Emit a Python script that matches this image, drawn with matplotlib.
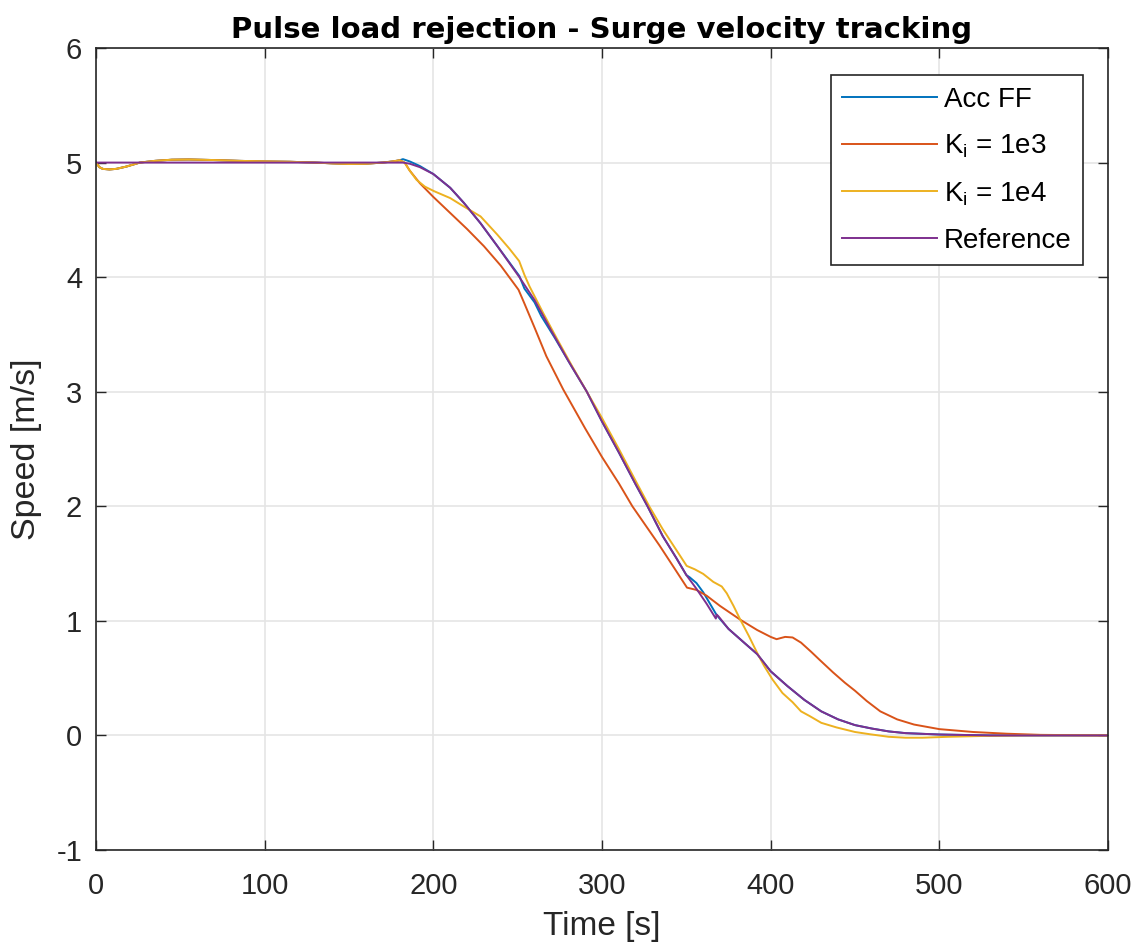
import matplotlib
matplotlib.use("Agg")
import matplotlib.pyplot as plt

plt.rcParams['font.family'] = ['Liberation Sans', 'DejaVu Sans']
plt.rcParams['mathtext.fontset'] = 'custom'
plt.rcParams['mathtext.rm'] = 'Liberation Sans'
plt.rcParams['mathtext.it'] = 'Liberation Sans:italic'
plt.rcParams['axes.unicode_minus'] = False

# start-up wiggle, shared by the three controllers
t_start = [0, 2, 4, 8, 12, 18, 26, 35, 45, 55, 70, 85, 100, 115, 130, 140, 150, 160, 170, 176, 180]
v_start = [5.0, 4.96, 4.945, 4.94, 4.945, 4.965, 5.0, 5.015, 5.025, 5.027, 5.022, 5.015, 5.01, 5.007,
           5.0, 4.993, 4.988, 4.99, 5.0, 5.01, 5.02]

t_acc = t_start + [182, 186, 192, 200, 210, 218, 228, 238, 246, 251, 254, 257, 260, 264, 272, 282, 291,
                   300, 310, 320, 327, 336, 344, 350, 352, 356, 360, 364, 368, 375, 385, 392, 400, 410,
                   420, 430, 440, 450, 460, 470, 480, 500, 530, 600]
v_acc = v_start + [5.03, 5.01, 4.97, 4.90, 4.78, 4.65, 4.47, 4.27, 4.11, 4.01, 3.90, 3.84, 3.78, 3.66,
                   3.47, 3.22, 3.0, 2.74, 2.47, 2.19, 2.0, 1.74, 1.55, 1.40, 1.38, 1.33, 1.25, 1.15,
                   1.05, 0.93, 0.80, 0.71, 0.56, 0.43, 0.31, 0.21, 0.14, 0.09, 0.06, 0.035, 0.02,
                   0.008, 0.0, 0.0]

t_ki3 = t_start + [183, 186, 192, 200, 210, 220, 230, 240, 250.5, 254, 260, 267, 277, 290, 300, 310,
                   318, 326, 334, 342, 350.4, 356, 362, 370, 382, 392, 400, 403.5, 406, 408.6, 413,
                   418, 424, 429, 437, 444, 450, 457, 465, 475, 485, 500, 520, 540, 560, 600]
v_ki3 = v_start + [5.0, 4.93, 4.82, 4.70, 4.56, 4.42, 4.27, 4.10, 3.89, 3.77, 3.56, 3.31, 3.02, 2.68,
                   2.43, 2.20, 2.0, 1.83, 1.66, 1.48, 1.29, 1.27, 1.22, 1.13, 1.01, 0.92, 0.86, 0.84,
                   0.85, 0.86, 0.855, 0.81, 0.73, 0.66, 0.55, 0.46, 0.39, 0.30, 0.21, 0.14, 0.095,
                   0.055, 0.03, 0.015, 0.005, 0.0]

t_ki4 = t_start + [183, 186, 190, 195, 200.5, 210, 217.7, 228, 238, 245, 250.9, 254, 257, 265, 273, 282,
                   291, 300, 310, 320, 328, 336, 344, 350.2, 355, 360, 366, 371, 374, 378, 382, 387,
                   392, 396, 401, 407, 413, 418, 423, 430, 439, 450, 459, 470, 480, 490, 505, 525,
                   550, 600]
v_ki4 = v_start + [5.0, 4.93, 4.85, 4.79, 4.75, 4.69, 4.62, 4.53, 4.37, 4.25, 4.14, 4.02, 3.92, 3.69,
                   3.47, 3.23, 3.0, 2.77, 2.50, 2.22, 2.0, 1.80, 1.62, 1.48, 1.45, 1.41, 1.34, 1.30,
                   1.24, 1.13, 1.01, 0.87, 0.72, 0.61, 0.49, 0.37, 0.29, 0.21, 0.17, 0.11, 0.07, 0.03,
                   0.01, -0.012, -0.02, -0.02, -0.012, -0.005, 0.0, 0.0]

t_ref = [0, 182, 186, 192, 200, 210, 218, 228, 238, 251, 260, 270, 280, 291, 300, 310, 320, 327, 336,
         344, 350, 356, 362, 367.5, 368, 369, 375, 385, 392, 400, 410, 420, 430, 440, 450, 460, 470,
         480, 500, 530, 600]
v_ref = [5.0, 5.0, 4.99, 4.96, 4.90, 4.78, 4.65, 4.47, 4.27, 4.0, 3.80, 3.53, 3.27, 3.0, 2.74, 2.47,
         2.19, 2.0, 1.74, 1.55, 1.40, 1.28, 1.15, 1.02, 1.055, 1.04, 0.93, 0.80, 0.71, 0.56, 0.43,
         0.31, 0.21, 0.14, 0.09, 0.06, 0.035, 0.02, 0.008, 0.0, 0.0]

x_ticks = [0, 100, 200, 300, 400, 500, 600]
y_ticks = [-1, 0, 1, 2, 3, 4, 5, 6]

fig = plt.figure(figsize=(11.4, 9.49), dpi=100)
ax = fig.add_axes([96 / 1140, 1 - 850 / 949, 1012 / 1140, 802 / 949])

lw = 1.4
ax.plot(t_acc, v_acc, color='#0072BD', lw=lw, label='Acc FF')
ax.plot(t_ki3, v_ki3, color='#D95319', lw=lw, label=r'K$_{\mathregular{i}}$ = 1e3')
ax.plot(t_ki4, v_ki4, color='#EDB120', lw=lw, label=r'K$_{\mathregular{i}}$ = 1e4')
ax.plot(t_ref, v_ref, color='#7E2F8E', lw=lw, label='Reference')

ax.set_xlim(0, 600)
ax.set_ylim(-1, 6)
ax.set_xticks(x_ticks)
ax.set_yticks(y_ticks)
ax.grid(True, color='#e5e5e5', lw=1.2)
ax.set_axisbelow(True)
for s in ax.spines.values():
    s.set_color('#262626')
    s.set_linewidth(1.2)
ax.tick_params(direction='in', length=7, width=1, colors='#262626', labelsize=21,
               top=True, right=True)
ax.tick_params(axis='x', pad=16)
ax.tick_params(axis='y', pad=10)

ax.set_xlabel('Time [s]', fontsize=24, color='#262626', labelpad=8)
ax.set_ylabel('Speed [m/s]', fontsize=24.5, color='#262626', labelpad=10)
ax.set_title('Pulse load rejection - Surge velocity tracking', fontsize=21, fontweight='bold',
             family='DejaVu Sans', pad=7)

leg = ax.legend(loc='upper right', bbox_to_anchor=(1083 / 1140, 1 - 75 / 949),
                bbox_transform=fig.transFigure, fontsize=20, handlelength=3.4,
                fancybox=False, framealpha=1, borderaxespad=0, labelspacing=0.72,
                handletextpad=0.25, borderpad=0.42)
leg.get_frame().set_edgecolor('#262626')
leg.get_frame().set_linewidth(1.2)

fig.savefig('out.png', dpi=100)
